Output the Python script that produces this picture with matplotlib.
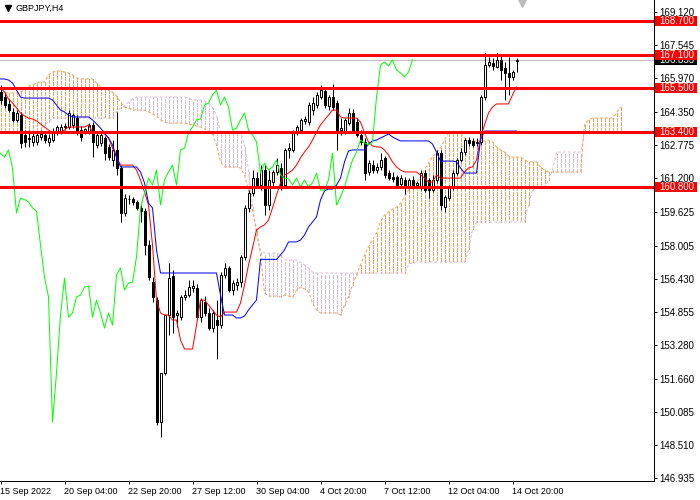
import matplotlib
matplotlib.use("Agg")
import matplotlib.pyplot as plt
import matplotlib.transforms as mtransforms
from matplotlib.patches import Rectangle
from matplotlib.lines import Line2D

plt.rcParams['font.family'] = ['Liberation Sans', 'DejaVu Sans']
plt.rcParams['lines.scale_dashes'] = False

# H4 bars, oldest first (bar 0 = 15 Sep 2022 04:00)
opens = [165.32, 165.08, 164.75, 164.37, 163.99, 164.22, 163.27, 163.08, 162.94, 162.94,
         163.18, 163.27, 162.94, 163.03, 163.41, 163.41, 163.65, 163.65, 163.75, 164.08,
         163.51, 163.46, 163.41, 163.75, 162.80, 162.89, 163.13, 162.70, 162.08, 162.56,
         161.70, 159.56, 160.22, 160.22, 160.08, 159.80, 159.65, 158.03, 156.27, 155.41,
         149.60, 151.94, 154.70, 156.56, 154.70, 154.60, 155.56, 155.65, 155.99, 155.99,
         154.60, 155.32, 154.80, 154.08, 154.46, 154.22, 156.60, 156.94, 155.89, 156.13,
         156.27, 157.46, 159.80, 160.51, 161.22, 160.89, 161.60, 159.94, 161.03, 161.51,
         161.70, 160.89, 162.56, 162.56, 163.37, 163.51, 163.94, 163.89, 164.46, 164.70,
         165.08, 165.37, 164.65, 165.08, 164.80, 163.51, 163.41, 163.84, 164.32, 163.89,
         163.27, 162.94, 161.51, 161.84, 161.60, 161.75, 162.18, 161.46, 161.27, 161.27,
         160.94, 161.13, 160.80, 161.13, 160.89, 160.80, 161.46, 161.13, 160.65, 161.13,
         162.41, 159.84, 160.27, 160.80, 161.46, 162.08, 162.46, 163.03, 162.99, 162.89,
         162.94, 165.08, 166.60, 166.70, 166.51, 166.84, 166.46, 166.22, 166.03, 166.80]
highs = [165.65, 165.32, 164.94, 164.56, 164.46, 164.37, 163.51, 163.51, 163.37, 163.41,
         163.51, 163.46, 163.32, 163.60, 163.75, 163.80, 163.84, 164.46, 164.32, 164.22,
         163.70, 163.60, 163.84, 163.89, 163.41, 163.37, 163.22, 162.84, 163.03, 164.37,
         161.84, 160.46, 160.41, 160.32, 160.18, 159.94, 159.80, 158.27, 156.51, 155.56,
         149.94, 152.80, 157.18, 156.84, 154.94, 155.65, 155.89, 156.37, 156.37, 156.18,
         155.51, 155.60, 155.03, 154.94, 155.41, 156.75, 157.18, 157.03, 156.37, 156.46,
         157.56, 159.94, 160.65, 161.60, 161.51, 161.84, 161.84, 161.60, 161.60, 162.18,
         161.94, 162.65, 162.89, 163.51, 163.75, 164.08, 164.18, 164.84, 165.08, 165.32,
         165.65, 165.51, 165.18, 165.70, 164.94, 164.08, 164.08, 164.56, 164.51, 164.08,
         163.51, 163.13, 162.08, 162.08, 161.94, 162.41, 162.27, 161.60, 161.51, 161.37,
         161.37, 161.27, 161.22, 161.32, 161.08, 161.60, 161.60, 161.22, 161.37, 162.56,
         162.56, 160.41, 160.89, 161.60, 162.18, 162.65, 163.13, 163.18, 163.13, 163.13,
         165.18, 167.18, 166.99, 166.94, 167.18, 167.08, 166.75, 166.99, 166.37, 166.94]
lows = [164.75, 164.56, 164.37, 163.89, 163.89, 162.65, 162.70, 162.70, 162.75, 162.80,
        163.03, 162.89, 162.75, 162.94, 163.27, 163.32, 163.51, 163.56, 163.60, 163.27,
        162.99, 163.32, 163.32, 162.22, 162.65, 162.75, 162.08, 162.08, 161.80, 161.37,
        159.13, 159.41, 159.99, 159.94, 159.70, 159.13, 157.56, 156.37, 155.32, 149.46,
        148.89, 151.84, 153.75, 153.84, 154.13, 154.46, 155.41, 155.56, 155.80, 154.46,
        154.37, 154.65, 153.99, 153.89, 152.60, 154.08, 156.46, 155.80, 155.65, 155.89,
        156.03, 157.32, 159.60, 160.37, 160.75, 160.65, 159.46, 159.70, 160.84, 161.37,
        160.65, 160.75, 162.18, 162.46, 163.27, 163.37, 163.80, 163.75, 164.22, 164.56,
        164.99, 164.56, 164.46, 164.46, 162.56, 163.27, 163.32, 163.75, 163.37, 163.18,
        162.80, 161.13, 161.37, 161.46, 161.46, 161.60, 161.22, 161.13, 161.03, 160.75,
        160.84, 160.46, 160.70, 160.70, 160.75, 160.65, 160.56, 160.27, 160.56, 160.99,
        159.70, 159.60, 160.18, 160.65, 161.37, 161.99, 162.32, 162.75, 162.70, 162.75,
        162.80, 164.94, 166.51, 166.37, 166.46, 165.89, 164.94, 165.18, 165.89, 166.27]
closes = [164.94, 164.70, 164.46, 163.99, 164.32, 162.89, 162.94, 163.13, 163.22, 163.27,
          163.32, 163.03, 163.13, 163.41, 163.65, 163.65, 163.70, 164.32, 164.22, 163.41,
          163.18, 163.56, 163.75, 162.94, 163.27, 163.27, 162.41, 162.22, 162.56, 161.70,
          159.56, 160.27, 160.20, 160.08, 159.80, 159.65, 158.03, 156.51, 155.56, 149.60,
          151.94, 154.70, 156.46, 154.60, 154.80, 155.56, 155.65, 156.03, 156.08, 154.60,
          155.41, 154.80, 154.08, 154.80, 154.22, 156.60, 156.94, 155.89, 156.22, 156.27,
          157.46, 159.80, 160.51, 161.22, 160.89, 161.60, 159.94, 161.13, 161.51, 161.84,
          160.89, 162.56, 162.65, 163.37, 163.65, 163.99, 164.03, 164.70, 164.80, 165.18,
          165.41, 164.70, 165.08, 164.60, 163.51, 163.60, 163.99, 164.32, 163.51, 163.27,
          162.94, 161.46, 161.94, 161.60, 161.75, 162.08, 161.37, 161.22, 161.18, 160.89,
          161.22, 160.80, 161.13, 160.80, 160.99, 161.46, 160.65, 160.65, 161.13, 162.41,
          159.94, 160.32, 160.80, 161.46, 162.08, 162.46, 163.03, 162.89, 162.80, 162.94,
          165.08, 166.60, 166.75, 166.56, 166.84, 166.37, 166.22, 166.03, 166.27, 166.85]

# Ichimoku lines
tenkan = [165.51, 165.32, 164.99, 164.80, 164.56, 164.32, 164.18, 164.08, 164.03, 163.94,
          163.80, 163.65, 163.51, 163.37, 163.37, 163.37, 163.51, 163.65, 163.65, 163.65,
          163.65, 163.65, 163.75, 163.41, 163.37, 163.37, 163.32, 163.13, 162.65, 162.22,
          161.84, 161.84, 161.84, 161.84, 161.60, 161.13, 160.56, 159.94, 158.03, 155.41,
          154.80, 154.70, 154.70, 154.46, 154.46, 153.51, 153.08, 153.08, 153.08, 154.22,
          155.41, 155.41, 155.18, 154.94, 154.70, 154.60, 154.84, 154.84, 154.84, 154.84,
          155.27, 156.13, 157.08, 157.89, 158.75, 158.89, 158.99, 159.22, 159.80, 160.41,
          160.99, 161.37, 161.46, 161.60, 161.84, 162.18, 162.46, 162.70, 163.03, 163.41,
          163.75, 163.99, 164.22, 164.46, 164.46, 164.13, 164.08, 164.08, 164.08, 164.08,
          163.89, 163.37, 162.94, 162.75, 162.70, 162.70, 162.56, 162.32, 161.99, 161.75,
          161.60, 161.51, 161.51, 161.51, 161.51, 161.37, 161.22, 161.03, 161.03, 161.37,
          161.22, 161.22, 161.22, 161.22, 161.22, 161.22, 161.51, 161.70, 161.75, 162.08,
          163.13, 163.75, 164.32, 164.60, 164.75, 164.75, 164.75, 164.75, 165.18, 165.56]
kijun = ([165.94, 165.94, 165.89, 165.75, 165.41, 165.08] + [165.03] * 7 +
         [164.94, 164.70, 164.46, 164.37, 164.22] + [164.13] * 5 +
         [163.99, 163.80, 163.60, 163.37, 163.13, 162.80, 162.22] + [161.75] * 5 +
         [161.51, 160.99, 160.03, 159.80, 157.80] + [156.70] * 15 +
         [155.65, 154.70, 154.70, 154.70, 154.56, 154.56, 154.65, 154.94, 155.18, 155.41] +
         [157.35] * 5 +
         [157.56, 157.80, 158.18, 158.18, 158.18, 158.27, 158.51, 158.89, 159.13, 159.37,
          160.18, 160.61, 160.70, 160.70, 160.89, 161.22, 161.99, 162.51, 162.56, 162.56,
          162.56, 162.56, 162.84, 162.99, 163.03, 163.13, 163.22, 163.32, 163.18, 163.08] +
         [162.99] * 8 + [162.84, 162.46, 162.03, 162.03, 162.03, 162.03, 161.99, 161.70] +
         [161.46] * 4 + [163.03] + [163.46] * 9)
span_a = [165.27, 165.27, 165.27, 165.27, 165.27, 165.32, 165.41, 165.60, 165.65, 165.75,
          165.80, 165.80, 166.13, 166.27, 166.32, 166.32, 166.27, 166.22, 166.13, 165.99,
          165.94, 165.94, 165.94, 165.94, 165.75, 165.56, 165.46, 165.41, 165.32, 165.13,
          164.84, 164.60, 164.56, 164.46, 164.46, 164.46, 164.46, 164.37, 164.27, 164.18,
          163.99, 163.89, 163.84, 163.84, 163.84, 163.84, 163.84, 163.80, 163.75, 163.70,
          163.65, 163.56, 163.46, 163.32, 162.80, 161.99, 161.75, 161.75, 161.75, 161.75,
          161.70, 161.37, 160.65, 159.70, 158.75, 157.56, 155.75, 155.60, 155.60, 155.60,
          155.56, 155.65, 155.60, 155.56, 155.89, 156.03, 155.94, 155.80, 155.27, 154.94,
          154.80, 154.80, 154.80, 154.80, 154.80, 154.70, 155.18, 155.56, 156.13, 156.60,
          157.08, 157.56, 157.94, 158.27, 158.60, 159.13, 159.46, 159.60, 159.75, 159.84,
          160.03, 160.32, 160.65, 160.89, 161.03, 161.22, 161.60, 161.94, 162.22, 162.46,
          162.65, 163.03, 163.37, 163.37, 163.37, 163.37, 163.13, 162.99, 162.99, 162.99,
          162.99, 162.99, 163.03, 162.94, 162.70, 162.56, 162.46, 162.27, 162.22, 162.22,
          162.22, 162.08, 161.99, 161.99, 161.99, 161.75, 161.60, 161.51, 161.51, 161.51,
          161.51, 161.51, 161.51, 161.51, 161.51, 161.51, 163.75, 163.99, 164.08, 164.08,
          164.08, 164.08, 164.08, 164.08, 164.32, 164.60]
span_b = ([163.37] * 11 + [163.75, 163.89] + [164.08] * 16 +
          [164.37, 164.56, 164.65, 164.84, 164.99] + [165.08] * 13 +
          [165.03, 164.94, 164.94, 164.94, 164.89, 164.80, 164.56, 164.22] + [163.41] * 6 +
          [162.80, 161.60, 159.94, 158.51, 157.80, 157.65, 157.65, 157.65, 157.65, 157.56,
           157.32, 157.32, 157.32, 157.32, 157.22, 157.08, 156.94, 156.75] + [156.70] * 23 +
          [157.08] + [157.22] * 14 + [157.80, 158.75] + [159.13] * 13 +
          [159.94, 160.65, 160.75, 160.75, 160.75, 161.13, 161.60] + [162.46] * 7 +
          [163.41] * 10)

levels = [168.7, 167.1, 165.5, 163.4, 160.8]
level_labels = ['168.700', '167.100', '165.500', '163.400', '160.800']
bid = 166.853
price_ticks = [169.120, 167.545, 165.970, 164.350, 162.775, 161.200, 159.625, 158.005,
               156.430, 154.855, 153.280, 151.660, 150.085, 148.510, 146.935]
time_labels = ['15 Sep 2022', '20 Sep 04:00', '22 Sep 20:00', '27 Sep 12:00', '30 Sep 04:00',
               '4 Oct 20:00', '7 Oct 12:00', '12 Oct 04:00', '14 Oct 20:00']
time_bars = [0, 16, 32, 48, 64, 80, 96, 112, 128]

ORANGE = '#F4A460'
THISTLE = '#D8BFD8'
PX = 0.72  # one screen pixel in points

fig = plt.figure(figsize=(7, 5), dpi=100)
ax = fig.add_axes([0, 19 / 500, 654 / 700, 481 / 500])
# 4 px per bar, bars sit on pixel centres
ax.set_xlim(-0.125, 163.375)
ax.set_ylim(146.795, 169.7)

# kumo: one dotted vertical line per bar between span A and span B
dots = (0, (3 * PX, 2 * PX))
cloud_x = list(range(len(span_a)))
cloud_col = [ORANGE if a >= b else THISTLE for a, b in zip(span_a, span_b)]
ax.vlines(cloud_x, span_a, span_b, colors=cloud_col, linewidth=PX, linestyles=[dots],
          capstyle='butt', antialiased=False, zorder=1)
ax.plot(cloud_x, span_b, color=THISTLE, lw=PX, ls=dots, zorder=1)
ax.plot(cloud_x, span_a, color=ORANGE, lw=PX, ls=dots, zorder=1)

# candles
bars = list(range(len(closes)))
ax.vlines(bars, lows, highs, colors='black', linewidth=PX, zorder=3)
for i in bars:
    o, c = opens[i], closes[i]
    face = 'white' if c >= o else 'black'
    ax.bar(i, abs(c - o), bottom=min(o, c), width=0.5, color=face,
           edgecolor='black', linewidth=PX, zorder=3)

# tenkan, kijun, chikou (close drawn 26 bars back)
ax.plot(bars, tenkan, color='#FF0000', lw=PX, zorder=4)
ax.plot(bars, kijun, color='#0000FF', lw=PX, zorder=4)
ax.plot(bars[:len(closes) - 26], closes[26:], color='#00FF00', lw=PX, zorder=4)

ax.axhline(bid, color='#C0C0C0', lw=PX, zorder=2)
for lv in levels:
    ax.axhline(lv, color='#FF0000', lw=3 * PX, zorder=5)

for side in ['left', 'top']:
    ax.spines[side].set_visible(False)
for side in ['right', 'bottom']:
    ax.spines[side].set_linewidth(PX)

ax.yaxis.tick_right()
ax.set_yticks(price_ticks)
ax.set_yticklabels([f'{v:.3f}' for v in price_ticks])
ax.tick_params(axis='y', direction='out', length=2.5, width=PX, pad=1.5, labelsize=7)
ax.set_xticks(time_bars)
ax.set_xticklabels(time_labels, ha='left')
ax.tick_params(axis='x', direction='out', length=2, width=PX, pad=2, labelsize=6.5)

# price boxes on the right scale
bt = mtransforms.blended_transform_factory(fig.transFigure, ax.transData)
fig.add_artist(Rectangle((655 / 700, bid - 5 / 21), 42 / 700, 10 / 21, transform=bt,
                         facecolor='black', edgecolor='none', zorder=1))
fig.text(659 / 700, bid, f'{bid:.3f}', transform=bt, color='white', fontsize=7,
         va='center', ha='left', zorder=2)
for lv, lab in zip(levels, level_labels):
    fig.add_artist(Rectangle((655 / 700, lv - 5 / 21), 42 / 700, 10 / 21, transform=bt,
                             facecolor='#FF0000', edgecolor='none', zorder=3))
    fig.text(659 / 700, lv, lab, transform=bt, color='white', fontsize=7,
             va='center', ha='left', zorder=4)

# window title and shift marker
fig.add_artist(Line2D([8 / 700], [1 - 8 / 500], marker='v', markersize=4.5, color='black',
                      transform=fig.transFigure))
fig.text(15 / 700, 1 - 8 / 500, 'GBPJPY,H4', fontsize=6.5, va='center', ha='left')
fig.add_artist(Line2D([522 / 700], [1 - 1 / 500], marker='v', markersize=9, color='#BEBEBE',
                      transform=fig.transFigure))

fig.savefig('out.png', dpi=100)
